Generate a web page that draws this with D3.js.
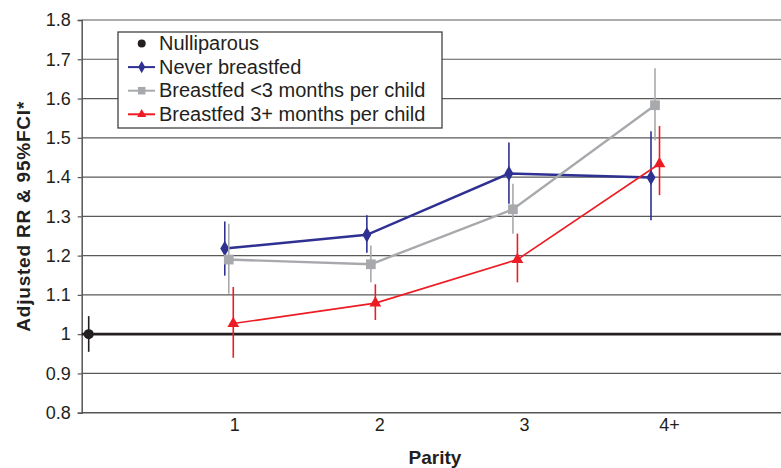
<!DOCTYPE html>
<meta charset="utf-8">
<style>
body { margin: 0; background: #fff; }
svg text { font-family: "Liberation Sans", Arial, sans-serif; fill: #231f20; }
.tick text { font-size: 18px; }
.grid line { stroke: #5a5a5a; stroke-width: 1.2; }
</style>
<svg width="781" height="468"></svg>
<script src="https://d3js.org/d3.v7.min.js"></script>
<script>

var parityLabels = ["1", "2", "3", "4+"];
var yTicks = [0.8, 0.9, 1, 1.1, 1.2, 1.3, 1.4, 1.5, 1.6, 1.7, 1.8];

// nulliparous reference group
var nulliparous = {rr: 1.0, lo: 0.955, hi: 1.046};

// one value per parity 1..4+
var neverRR = [1.218, 1.253, 1.409, 1.399];
var neverLo = [1.149, 1.207, 1.332, 1.290];
var neverHi = [1.287, 1.303, 1.488, 1.517];

var shortRR = [1.190, 1.178, 1.318, 1.583];
var shortLo = [1.103, 1.132, 1.256, 1.494];
var shortHi = [1.281, 1.226, 1.383, 1.677];

var longRR = [1.027, 1.079, 1.190, 1.434];
var longLo = [0.940, 1.036, 1.132, 1.354];
var longHi = [1.120, 1.127, 1.256, 1.530];

var seriesNames = ["Never breastfed", "Breastfed <3 months per child", "Breastfed 3+ months per child"];

var svg = d3.select("svg");
var plotLeft = 81.7, plotRight = 781, plotTop = 20, plotBottom = 412.7;

var y = d3.scaleLinear().domain([0.8, 1.8]).range([plotBottom, plotTop]);
// points sit on one scale, category labels on a slightly wider one (as in the original)
var xPt = d3.scaleLinear().domain([0, 4]).range([88.7, 657]);
var xLab = d3.scaleLinear().domain([0, 4]).range([90, 669.5]);

// gridlines
svg.append("g").attr("class", "grid")
  .selectAll("line")
  .data(yTicks.filter(function(d) { return d !== 1 && d !== 0.8; }))
  .enter().append("line")
    .attr("x1", plotLeft).attr("x2", plotRight)
    .attr("y1", function(d) { return y(d); })
    .attr("y2", function(d) { return y(d); });

// y axis
var yAxis = svg.append("g")
  .attr("transform", "translate(" + plotLeft + ",0)")
  .call(d3.axisLeft(y).tickValues(yTicks).tickSize(4).tickPadding(7)
    .tickFormat(function(d) { return d === 1 ? "1" : d3.format(".1f")(d); }));
yAxis.select(".domain").attr("stroke", "#555").attr("stroke-width", 1.5);
yAxis.selectAll(".tick line").attr("stroke", "#555").attr("stroke-width", 1.2);
yAxis.selectAll(".tick text").attr("fill", "#231f20").style("font-family", "Liberation Sans, Arial, sans-serif");

// bottom axis line + labels
svg.append("line")
  .attr("x1", plotLeft).attr("x2", plotRight)
  .attr("y1", y(0.8)).attr("y2", y(0.8))
  .attr("stroke", "#555").attr("stroke-width", 1.5);

svg.append("g").selectAll("text")
  .data(parityLabels)
  .enter().append("text")
    .attr("x", function(d, i) { return xLab(i + 1); })
    .attr("y", 431)
    .attr("text-anchor", "middle")
    .style("font-size", "18px")
    .text(function(d) { return d; });

// reference line at 1
svg.append("line")
  .attr("x1", plotLeft).attr("x2", plotRight)
  .attr("y1", y(1)).attr("y2", y(1))
  .attr("stroke", "#231f20").attr("stroke-width", 2.6);

// axis titles
svg.append("text")
  .attr("x", 435).attr("y", 464)
  .attr("text-anchor", "middle")
  .style("font-size", "19px").style("font-weight", "bold")
  .text("Parity");

svg.append("text")
  .attr("transform", "translate(30,216.7) rotate(-90)")
  .attr("text-anchor", "middle")
  .attr("textLength", 230)
  .style("font-size", "19px").style("font-weight", "bold")
  .text("Adjusted RR & 95%FCI*");

var series = [
  {rr: neverRR, lo: neverLo, hi: neverHi, color: "#2e3192", width: 2.4, shift: -6, sym: d3.symbolDiamond, size: 70},
  {rr: shortRR, lo: shortLo, hi: shortHi, color: "#a7a9ac", width: 2.4, shift: -2, sym: d3.symbolSquare, size: 95},
  {rr: longRR, lo: longLo, hi: longHi, color: "#ed1c24", width: 1.6, shift: 2.5, sym: d3.symbolTriangle, size: 60}
];

series.forEach(function(s) {
  var g = svg.append("g");
  var px = function(i) { return xPt(i + 1) + s.shift; };
  g.selectAll("line.err")
    .data(s.rr)
    .enter().append("line")
      .attr("x1", function(d, i) { return px(i); })
      .attr("x2", function(d, i) { return px(i); })
      .attr("y1", function(d, i) { return y(s.lo[i]); })
      .attr("y2", function(d, i) { return y(s.hi[i]); })
      .attr("stroke", s.color).attr("stroke-width", 1.6);
  g.append("path")
    .datum(s.rr)
    .attr("fill", "none")
    .attr("stroke", s.color)
    .attr("stroke-width", s.width)
    .attr("d", d3.line().x(function(d, i) { return px(i); }).y(function(d) { return y(d); }));
  g.selectAll("path.pt")
    .data(s.rr)
    .enter().append("path")
      .attr("class", "pt")
      .attr("transform", function(d, i) { return "translate(" + px(i) + "," + y(d) + ")"; })
      .attr("d", d3.symbol().type(s.sym).size(s.size))
      .attr("fill", s.color);
});

// nulliparous point
svg.append("line")
  .attr("x1", xPt(0)).attr("x2", xPt(0))
  .attr("y1", y(nulliparous.lo)).attr("y2", y(nulliparous.hi))
  .attr("stroke", "#231f20").attr("stroke-width", 1.6);
svg.append("circle")
  .attr("cx", xPt(0)).attr("cy", y(nulliparous.rr)).attr("r", 5)
  .attr("fill", "#231f20");

// legend
var leg = svg.append("g").attr("transform", "translate(118,32)");
leg.append("rect")
  .attr("width", 324).attr("height", 96)
  .attr("fill", "#fff").attr("stroke", "#333").attr("stroke-width", 1.2);

var legRows = [{name: "Nulliparous", color: "#231f20", sym: d3.symbolCircle, size: 50, line: false}]
  .concat(series.map(function(s, i) {
    return {name: seriesNames[i], color: s.color, sym: s.sym, size: s.size * 0.6, line: true};
  }));

var row = leg.selectAll("g.row")
  .data(legRows)
  .enter().append("g")
    .attr("transform", function(d, i) { return "translate(0," + (11.5 + i * 23.6) + ")"; });
row.filter(function(d) { return d.line; }).append("line")
  .attr("x1", 10).attr("x2", 37)
  .attr("stroke", function(d) { return d.color; })
  .attr("stroke-width", 2);
row.append("path")
  .attr("transform", "translate(23.7,0)")
  .attr("d", function(d) { return d3.symbol().type(d.sym).size(d.size)(); })
  .attr("fill", function(d) { return d.color; });
row.append("text")
  .attr("x", 41).attr("y", 6.5)
  .style("font-size", "20px")
  .text(function(d) { return d.name; });

</script>
